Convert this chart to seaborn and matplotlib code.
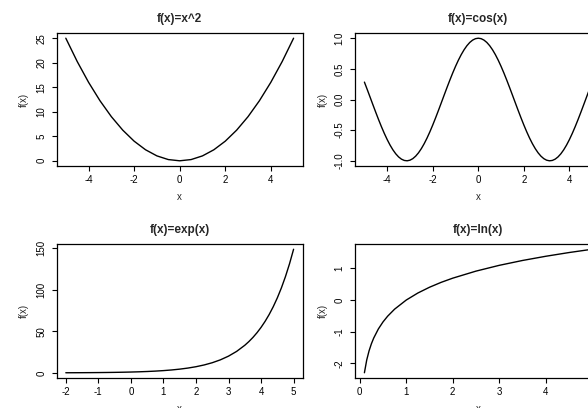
import matplotlib
matplotlib.use("Agg")
import matplotlib.pyplot as plt
import seaborn as sns

# ---- data ----
x_sq = [-5, -4.5, -4, -3.5, -3, -2.5, -2, -1.5, -1, -0.5, 0, 0.5, 1, 1.5, 2, 2.5, 3, 3.5, 4, 4.5, 5]
y_sq = [25, 20.25, 16, 12.25, 9, 6.25, 4, 2.25, 1, 0.25, 0, 0.25, 1, 2.25, 4, 6.25, 9, 12.25, 16, 20.25, 25]

x_cos = [-5, -4.875, -4.75, -4.625, -4.5, -4.375, -4.25, -4.125, -4, -3.875, -3.75, -3.625, -3.5, -3.375,
         -3.25, -3.125, -3, -2.875, -2.75, -2.625, -2.5, -2.375, -2.25, -2.125, -2, -1.875, -1.75, -1.625,
         -1.5, -1.375, -1.25, -1.125, -1, -0.875, -0.75, -0.625, -0.5, -0.375, -0.25, -0.125, 0,
         0.125, 0.25, 0.375, 0.5, 0.625, 0.75, 0.875, 1, 1.125, 1.25, 1.375, 1.5, 1.625, 1.75, 1.875,
         2, 2.125, 2.25, 2.375, 2.5, 2.625, 2.75, 2.875, 3, 3.125, 3.25, 3.375, 3.5, 3.625, 3.75, 3.875,
         4, 4.125, 4.25, 4.375, 4.5, 4.625, 4.75, 4.875, 5]
y_cos = [0.2837, 0.1619, 0.0376, -0.0873, -0.2108, -0.3311, -0.4461, -0.5541, -0.6536, -0.7429, -0.8206,
         -0.8854, -0.9365, -0.9729, -0.9941, -0.9999, -0.9900, -0.9647, -0.9243, -0.8696, -0.8011, -0.7204,
         -0.6282, -0.5263, -0.4161, -0.2995, -0.1782, -0.0542, 0.0707, 0.1946, 0.3153, 0.4312, 0.5403,
         0.6410, 0.7317, 0.8110, 0.8776, 0.9306, 0.9689, 0.9922, 1.0,
         0.9922, 0.9689, 0.9306, 0.8776, 0.8110, 0.7317, 0.6410, 0.5403, 0.4312, 0.3153, 0.1946, 0.0707,
         -0.0542, -0.1782, -0.2995, -0.4161, -0.5263, -0.6282, -0.7204, -0.8011, -0.8696, -0.9243, -0.9647,
         -0.9900, -0.9999, -0.9941, -0.9729, -0.9365, -0.8854, -0.8206, -0.7429, -0.6536, -0.5541, -0.4461,
         -0.3311, -0.2108, -0.0873, 0.0376, 0.1619, 0.2837]

x_exp = [-2, -1.75, -1.5, -1.25, -1, -0.75, -0.5, -0.25, 0, 0.25, 0.5, 0.75, 1, 1.25, 1.5, 1.75, 2,
         2.25, 2.5, 2.75, 3, 3.25, 3.5, 3.625, 3.75, 3.875, 4, 4.125, 4.25, 4.375, 4.5, 4.625, 4.75,
         4.875, 5]
y_exp = [0.135, 0.174, 0.223, 0.287, 0.368, 0.472, 0.607, 0.779, 1.0, 1.284, 1.649, 2.117, 2.718, 3.490,
         4.482, 5.755, 7.389, 9.488, 12.18, 15.64, 20.09, 25.79, 33.12, 37.53, 42.52, 48.18, 54.60, 61.87,
         70.11, 79.44, 90.02, 102.0, 115.58, 130.97, 148.41]

x_ln = [0.1, 0.15, 0.2, 0.25, 0.3, 0.4, 0.5, 0.6, 0.75, 1, 1.25, 1.5, 1.75, 2, 2.5, 3, 3.5, 4, 4.5, 5]
y_ln = [-2.303, -1.897, -1.609, -1.386, -1.204, -0.916, -0.693, -0.511, -0.288, 0.0, 0.223, 0.405,
        0.560, 0.693, 0.916, 1.099, 1.253, 1.386, 1.504, 1.609]

titles = ["f(x)=x^2", "f(x)=cos(x)", "f(x)=exp(x)", "f(x)=ln(x)"]
xticks = [[-4, -2, 0, 2, 4], [-4, -2, 0, 2, 4], [-2, -1, 0, 1, 2, 3, 4, 5], [0, 1, 2, 3, 4, 5]]
yticks = [[0, 5, 10, 15, 20, 25], [-1.0, -0.5, 0.0, 0.5, 1.0], [0, 50, 100, 150], [-2, -1, 0, 1]]
ytick_labels = [["0", "5", "10", "15", "20", "25"], ["-1.0", "-0.5", "0.0", "0.5", "1.0"],
                ["0", "50", "100", "150"], ["-2", "-1", "0", "1"]]

sns.set_theme(style="ticks")
plt.rcParams["font.family"] = ["Liberation Sans", "DejaVu Sans"]
plt.rcParams["axes.unicode_minus"] = False

fig = plt.figure(figsize=(5.88, 4.08), dpi=100)
W, H = 588, 408
boxes = [(56.7, 33.3, 302.7, 165.7), (355.3, 33.3, 601.3, 165.7),
         (56.7, 244.3, 302.7, 377.7), (355.3, 244.3, 601.3, 377.7)]
series = [(x_sq, y_sq), (x_cos, y_cos), (x_exp, y_exp), (x_ln, y_ln)]

for i, ((l, t, r, b), (xs, ys)) in enumerate(zip(boxes, series)):
    ax = fig.add_axes([l / W, (H - b) / H, (r - l) / W, (b - t) / H])
    sns.lineplot(x=xs, y=ys, ax=ax, color="black", linewidth=1.0, sort=False)
    ax.margins(x=0.04, y=0.04)
    ax.set_xticks(xticks[i])
    ax.set_xticklabels([str(v) for v in xticks[i]])
    ax.set_yticks(yticks[i])
    ax.set_yticklabels(ytick_labels[i], rotation=90, va="center")
    ax.tick_params(axis="both", direction="out", length=3.6, width=0.8, labelsize=7, colors="black")
    ax.tick_params(axis="x", pad=3)
    ax.tick_params(axis="y", pad=4)
    for sp in ax.spines.values():
        sp.set_visible(True)
        sp.set_linewidth(0.9)
        sp.set_color("black")
    ax.set_title(titles[i], fontsize=8.5, fontweight="bold", pad=8)
    ax.set_xlabel("x", fontsize=7, labelpad=5)
    ax.set_ylabel("f(x)", fontsize=7, labelpad=5)

fig.savefig("out.png", dpi=100)
